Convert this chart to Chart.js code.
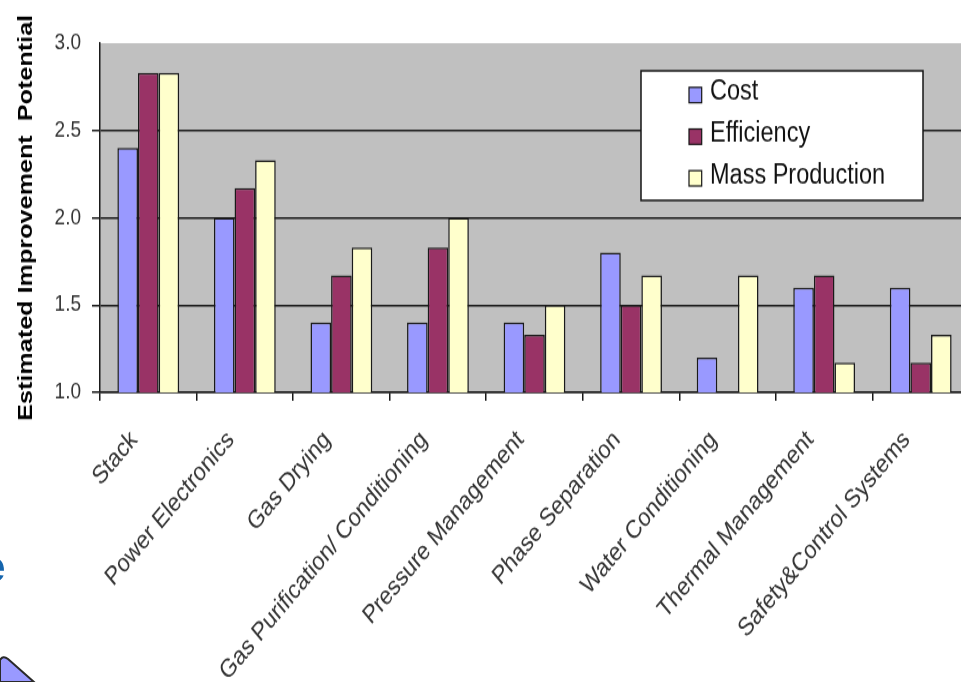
<!DOCTYPE html>
<html>
<head>
<meta charset="utf-8">
<script src="https://cdn.jsdelivr.net/npm/chart.js@4/dist/chart.umd.min.js"></script>
<style>
  html, body { margin: 0; padding: 0; background: #fff; overflow: hidden; width: 961px; height: 682px; }
  #frame { position: absolute; left: 0; top: 0; width: 969px; height: 568px; transform: scaleY(1.2); transform-origin: 0 0; }
  #slideLetter { position: absolute; left: -19px; top: 545px; font: bold 44px "Liberation Sans", Arial, sans-serif; line-height: 44px; color: #1565ad; }
  #slideShape { position: absolute; left: 0; top: 650px; }
</style>
</head>
<body>
<div id="frame"><canvas id="chart"></canvas></div>
<div id="slideLetter">e</div>
<svg id="slideShape" width="40" height="32" viewBox="0 650 40 32">
  <path d="M0,682 L0,660 Q3,655 8,659 L34,682 Z" fill="#9999ff" stroke="#2a2a2a" stroke-width="2"/>
</svg>
<script>
// Improvement potential per subsystem, rated on a 1-3 scale
const categories = [
  'Stack', 'Power Electronics', 'Gas Drying', 'Gas Purification/ Conditioning',
  'Pressure Management', 'Phase Separation', 'Water Conditioning',
  'Thermal Management', 'Safety&Control Systems'
];
const seriesNames = ['Cost', 'Efficiency', 'Mass Production'];
const cost       = [2.4, 2.0, 1.4, 1.4, 1.4, 1.8, 1.2, 1.6, 1.6];
const efficiency = [2.83, 2.17, 1.67, 1.83, 1.33, 1.5, null, 1.67, 1.17];
const massProd   = [2.83, 2.33, 1.83, 2.0, 1.5, 1.67, 1.67, 1.17, 1.33];
const yTicks = [1.0, 1.5, 2.0, 2.5, 3.0];
const yTitle = 'Estimated Improvement  Potential';

const FONT = '"Liberation Sans", Arial, sans-serif';

// grey plot background
const plotFill = {
  id: 'plotFill',
  beforeDraw(chart) {
    const a = chart.chartArea, ctx = chart.ctx;
    ctx.save();
    ctx.fillStyle = '#c0c0c0';
    ctx.fillRect(a.left, a.top, a.right - a.left, a.bottom - a.top);
    ctx.restore();
  }
};

// boxed legend sitting inside the plot area
const boxLegend = {
  id: 'boxLegend',
  afterDraw(chart) {
    const ctx = chart.ctx;
    ctx.save();
    ctx.fillStyle = '#ffffff';
    ctx.strokeStyle = '#151515';
    ctx.lineWidth = 1.5;
    ctx.fillRect(641, 59, 282, 108);
    ctx.strokeRect(641, 59, 282, 108);
    chart.data.datasets.forEach((ds, i) => {
      const cy = 79.2 + i * 34.7;
      ctx.fillStyle = ds.backgroundColor;
      ctx.fillRect(689, cy - 6.4, 12.7, 12.8);
      ctx.lineWidth = 1.2;
      ctx.strokeStyle = '#151515';
      ctx.strokeRect(689, cy - 6.4, 12.7, 12.8);
      ctx.fillStyle = '#111';
      ctx.font = '23.5px ' + FONT;
      ctx.textBaseline = 'middle';
      ctx.textAlign = 'left';
      ctx.fillText(ds.label, 710, cy - 2.5);
    });
    ctx.restore();
  }
};

const colors = ['#9999ff', '#993366', '#ffffcc'];
const values = [cost, efficiency, massProd];

new Chart(document.getElementById('chart'), {
  type: 'bar',
  data: {
    labels: categories,
    datasets: seriesNames.map((name, i) => ({
      label: name,
      data: values[i],
      backgroundColor: colors[i],
      borderColor: '#1a1a1a',
      borderWidth: 1.5,
      categoryPercentage: 0.64,
      barPercentage: 1.0
    }))
  },
  options: {
    responsive: true,
    maintainAspectRatio: false,
    animation: false,
    layout: { padding: { top: 36, right: 0, bottom: 0, left: 0 } },
    plugins: {
      legend: { display: false },
      tooltip: { enabled: false }
    },
    scales: {
      x: {
        afterFit(scale) { scale.height = 241; },
        border: { display: true, color: '#1a1a1a', width: 1.5 },
        grid: { offset: true, drawOnChartArea: false, drawTicks: true, tickLength: 7, color: '#1a1a1a', lineWidth: 1.5 },
        ticks: {
          autoSkip: false, minRotation: 45, maxRotation: 45, padding: 20, labelOffset: -14,
          color: '#333', font: { family: FONT, size: 21.5 }
        }
      },
      y: {
        min: 1, max: 3,
        afterFit(scale) { scale.width = 100; },
        afterBuildTicks(scale) { scale.ticks = yTicks.map(v => ({ value: v })); },
        border: { display: true, color: '#1a1a1a', width: 1.5 },
        grid: {
          color: c => (c.tick && c.tick.value === 3 ? 'rgba(0,0,0,0)' : '#1a1a1a'),
          lineWidth: 1.5, tickLength: 8
        },
        ticks: {
          padding: 11, color: '#333', font: { family: FONT, size: 19 },
          callback: v => Number(v).toFixed(1)
        },
        title: {
          display: true, text: yTitle, color: '#000',
          font: { family: FONT, size: 21, weight: 'bold' },
          padding: { top: 14, bottom: 0 }
        }
      }
    }
  },
  plugins: [plotFill, boxLegend]
});
</script>
</body>
</html>
